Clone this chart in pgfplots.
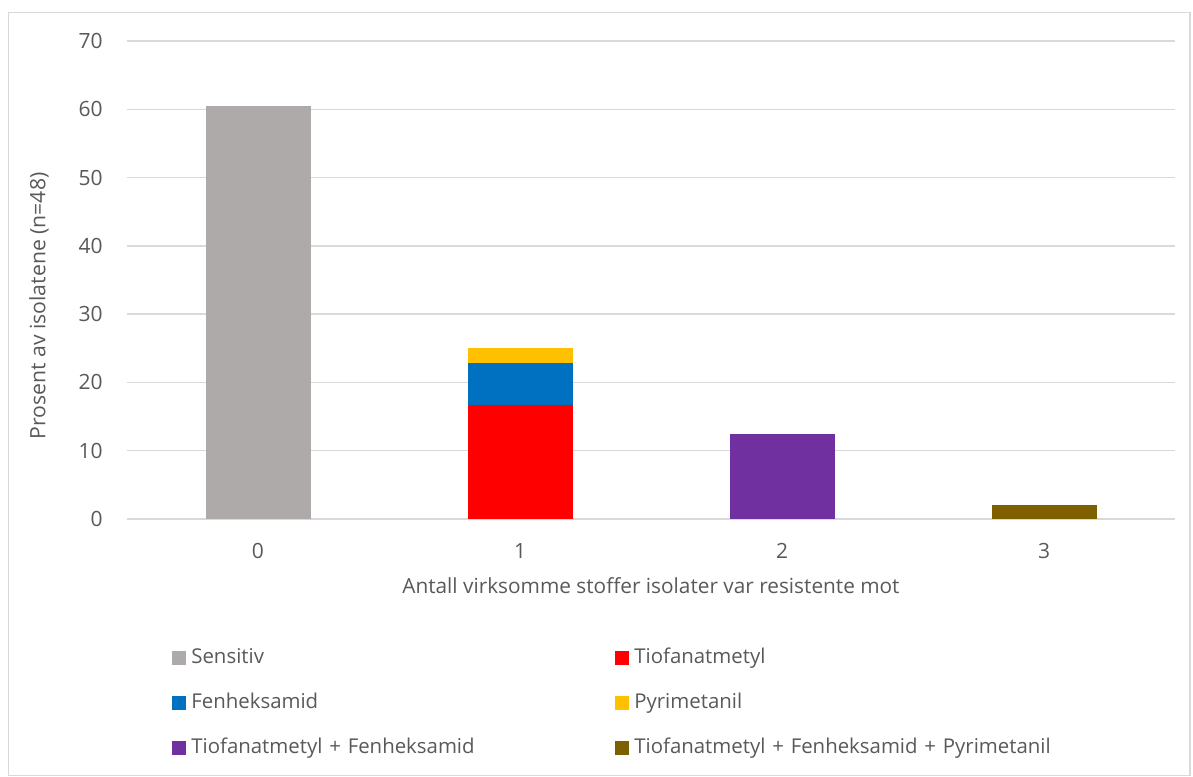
\documentclass[border=0pt]{standalone}
\usepackage{fontspec}
\setmainfont{Open Sans}
\usepackage{pgfplots}
\pgfplotsset{compat=1.18}

\definecolor{txt}{HTML}{595959}
\definecolor{gridc}{HTML}{D9D9D9}
\definecolor{framec}{HTML}{D9D9D9}
\definecolor{cSens}{HTML}{AEAAAA}
\definecolor{cTio}{HTML}{FF0000}
\definecolor{cFen}{HTML}{0070C0}
\definecolor{cPyr}{HTML}{FFC000}
\definecolor{cTF}{HTML}{7030A0}
\definecolor{cTFP}{HTML}{7F6000}

\begin{document}
\begin{tikzpicture}
\path[use as bounding box] (0,0) rectangle (596.5pt,-388pt);
\draw[color=framec, line width=0.7pt] (4.25pt,-6.25pt) rectangle (595pt,-387.7pt);
\begin{axis}[
  at={(63.5pt,-259.5pt)}, anchor=south west,
  scale only axis, width=524pt, height=239pt,
  xmin=-0.5, xmax=3.5, ymin=0, ymax=70,
  ybar stacked, bar width=52.5pt,
  xtick={0,1,2,3}, ytick={0,10,...,70},
  major tick length=0pt,
  axis line style={draw=none},
  ymajorgrids, grid style={color=gridc, line width=0.7pt},
  /pgf/number format/assume math mode=true,
  tick label style={font=\fontsize{10.5}{12}\selectfont, text=txt},
  yticklabel style={anchor=east, inner sep=0pt, xshift=-12pt},
  xticklabel style={anchor=north, inner sep=0pt, yshift=-12pt},
  xlabel={Antall virksomme stoffer isolater var resistente mot},
  xlabel style={at={(axis description cs:0.5,0)}, anchor=north, inner sep=0pt,
    yshift=-29pt, font=\fontsize{10.4}{12}\selectfont, text=txt},
  ylabel={Prosent av isolatene (n=48)},
  ylabel style={at={(axis description cs:-0.0839,0.4456)}, anchor=center, rotate=0,
    inner sep=0pt, font=\fontsize{10.6}{12}\selectfont, text=txt},
  legend columns=2,
  legend cell align=left,
  legend image code/.code={\fill[#1] (0pt,-3.5pt) rectangle (7pt,3.5pt);},
  legend style={at={(axis description cs:0.0429,-0.272)}, anchor=north west,
    draw=none, fill=none, inner sep=0pt, row sep=13.5pt,
    font=\fontsize{10.2}{12}\selectfont, text=txt,
    nodes={inner sep=0pt, text height=7pt, text depth=2pt},
    /tikz/every odd column/.append style={column sep=2.5pt},
    /tikz/every even column/.append style={text width=212pt}},
]
\addplot[fill=cSens, draw=none] coordinates {(0,60.42) (1,0) (2,0) (3,0)};
\addplot[fill=cTio, draw=none] coordinates {(0,0) (1,16.67) (2,0) (3,0)};
\addplot[fill=cFen, draw=none] coordinates {(0,0) (1,6.25) (2,0) (3,0)};
\addplot[fill=cPyr, draw=none] coordinates {(0,0) (1,2.08) (2,0) (3,0)};
\addplot[fill=cTF, draw=none] coordinates {(0,0) (1,0) (2,12.5) (3,0)};
\addplot[fill=cTFP, draw=none] coordinates {(0,0) (1,0) (2,0) (3,2.08)};
\legend{Sensitiv, Tiofanatmetyl, Fenheksamid, Pyrimetanil,
  Tiofanatmetyl + Fenheksamid, Tiofanatmetyl + Fenheksamid + Pyrimetanil}
\end{axis}
\end{tikzpicture}
\end{document}
